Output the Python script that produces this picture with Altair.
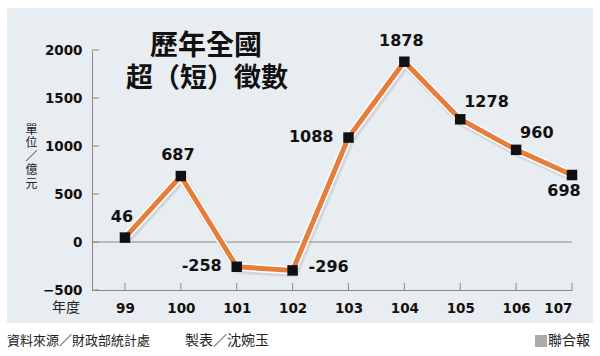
import altair as alt
import pandas as pd

# ---- data ----
years = [99, 100, 101, 102, 103, 104, 105, 106, 107]
values = [46, 687, -258, -296, 1088, 1878, 1278, 960, 698]
label_side = ["above", "above", "left", "right", "left", "above", "upright", "upright", "below"]
y_ticks = [-500, 0, 500, 1000, 1500, 2000]
title_lines = ["歷年全國", "超（短）徵數"]
y_title = ["單", "位", "／", "億", "元"]
x_title = "年度"
source_text = "資料來源／財政部統計處"
maker_text = "製表／沈婉玉"
brand_text = "聯合報"

df = pd.DataFrame({"year": years, "value": values, "side": label_side})
df["label"] = df["value"].astype(str)
ticks_df = pd.DataFrame({"v": y_ticks})
xt_df = pd.DataFrame({"year": years})

NUM_FONT = "DejaVu Sans"
CJK_FONT = "Noto Sans CJK TC"
ORANGE = "#E57E3C"
AXIS_GRAY = "#8a8a8a"

xscale = alt.Scale(domain=[98.41, 107], nice=False, zero=False)
yscale = alt.Scale(domain=[-500, 2000], nice=False, zero=False)

X = alt.X("year:Q", scale=xscale,
          axis=alt.Axis(values=years, format="d", title=None, ticks=False, grid=False,
                        domainColor=AXIS_GRAY, labelFont=NUM_FONT, labelFontWeight="bold",
                        labelFontSize=13.5, labelColor="#111", labelPadding=11, zindex=1))
Y = alt.Y("value:Q", scale=yscale,
          axis=alt.Axis(values=y_ticks, format="d", title=None, ticks=False, grid=False,
                        domainColor=AXIS_GRAY, labelFont=NUM_FONT, labelFontWeight="bold",
                        labelFontSize=13.5, labelColor="#111", labelPadding=10, zindex=1))

one = alt.Data(values=[{}])

panel = alt.Chart(one).mark_rect(color="#E8EDF1").encode(
    x=alt.value(-85), x2=alt.value(501), y=alt.value(-42), y2=alt.value(273)
)

base = alt.Chart(df)

axes_carrier = base.mark_point(opacity=0).encode(x=X, y=Y)

zero_line = alt.Chart(ticks_df).transform_filter("datum.v == 0").mark_rule(
    color=AXIS_GRAY, strokeWidth=1
).encode(y=alt.Y("v:Q", scale=yscale), x=alt.value(0), x2=alt.value(480))

y_tick_marks = alt.Chart(ticks_df).mark_rule(color=AXIS_GRAY, strokeWidth=1).encode(
    y=alt.Y("v:Q", scale=yscale), x=alt.value(0), x2=alt.value(7)
)
x_tick_marks = alt.Chart(xt_df).mark_rule(color=AXIS_GRAY, strokeWidth=1).encode(
    x=alt.X("year:Q", scale=xscale), y=alt.value(240), y2=alt.value(233)
)

shadow = base.mark_line(color="#000", opacity=0.09, strokeWidth=9, xOffset=1.5, yOffset=2.5,
                        strokeJoin="miter").encode(x=alt.X("year:Q", scale=xscale),
                                                    y=alt.Y("value:Q", scale=yscale))
white = base.mark_line(color="#ffffff", strokeWidth=8, strokeJoin="miter").encode(
    x=alt.X("year:Q", scale=xscale), y=alt.Y("value:Q", scale=yscale))
orange = base.mark_line(color=ORANGE, strokeWidth=5, strokeJoin="miter").encode(
    x=alt.X("year:Q", scale=xscale), y=alt.Y("value:Q", scale=yscale))
squares = base.mark_square(color="#111", size=110, opacity=1).encode(
    x=alt.X("year:Q", scale=xscale), y=alt.Y("value:Q", scale=yscale))

placements = {
    "above": dict(align="center", dx=-3, dy=-21),
    "left": dict(align="right", dx=-15, dy=-1),
    "right": dict(align="left", dx=16, dy=-3),
    "upright": dict(align="left", dx=4, dy=-17),
    "below": dict(align="center", dx=-8, dy=16),
}
label_layers = []
for side, p in placements.items():
    label_layers.append(
        base.transform_filter(alt.datum.side == side).mark_text(
            font=NUM_FONT, fontWeight="bold", fontSize=16, color="#111",
            baseline="middle", **p
        ).encode(x=alt.X("year:Q", scale=xscale), y=alt.Y("value:Q", scale=yscale),
                 text="label:N")
    )

def txt(text, x, y, **kw):
    return alt.Chart(one).mark_text(text=text, **kw).encode(x=alt.value(x), y=alt.value(y))

title1 = txt(title_lines[0], 114, -3, font=CJK_FONT, fontWeight="bold", fontSize=28,
             color="#111", align="center", baseline="middle")
title2 = txt(title_lines[1], 115, 29, font=CJK_FONT, fontWeight="bold", fontSize=27,
             color="#111", align="center", baseline="middle")
ytitle = txt(y_title, -60.5, 75, font=CJK_FONT, fontSize=12, color="#222",
             align="center", baseline="top", lineHeight=13.4)
xtitle = txt(x_title, -12, 258, font=CJK_FONT, fontSize=14, color="#222",
             align="right", baseline="middle")
src = txt(source_text, -85, 291, font=CJK_FONT, fontSize=13, color="#222",
          align="left", baseline="middle")
maker = txt(maker_text, 93, 291, font=CJK_FONT, fontSize=14, color="#222",
            align="left", baseline="middle")
brand = txt(brand_text, 498, 291, font=CJK_FONT, fontSize=14, color="#222",
            align="right", baseline="middle")
brand_sq = alt.Chart(one).mark_rect(color="#aaaaaa").encode(
    x=alt.value(443), x2=alt.value(455), y=alt.value(285), y2=alt.value(297))

chart = alt.layer(
    panel, axes_carrier, zero_line, y_tick_marks, x_tick_marks,
    shadow, white, orange, squares, *label_layers,
    title1, title2, ytitle, xtitle, src, maker, brand, brand_sq
).properties(
    width=480, height=240,
    padding={"left": 92, "top": 50, "right": 28, "bottom": 66},
    autosize=alt.AutoSizeParams(type="none"),
    background="#ffffff",
).configure_view(stroke=None, clip=False)

chart.save("out.html", embed_options={"renderer": "svg", "actions": False})
